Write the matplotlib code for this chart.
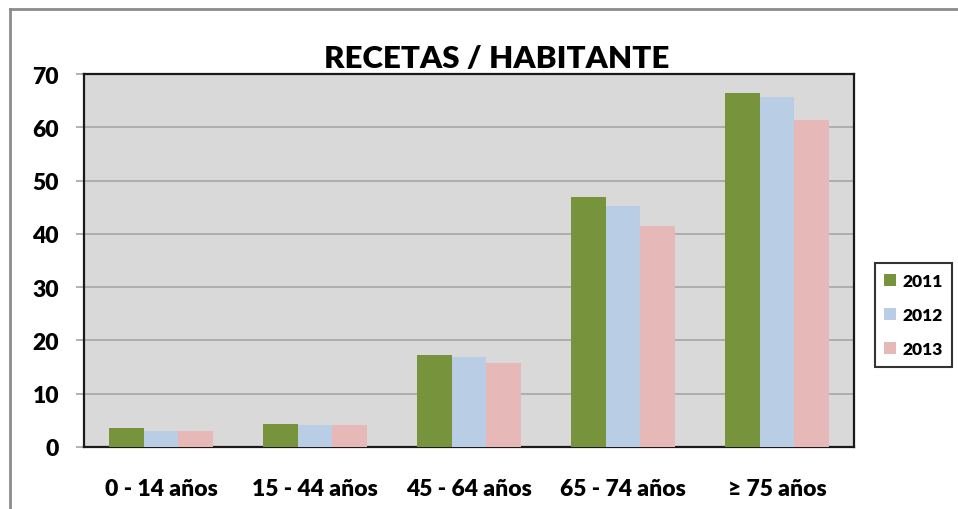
import numpy as np
import matplotlib
matplotlib.use("Agg")
import matplotlib.pyplot as plt
from matplotlib.lines import Line2D

plt.rcParams['font.family'] = ['Lato', 'DejaVu Sans']

categories = ["0 - 14 años", "15 - 44 años", "45 - 64 años", "65 - 74 años", "≥ 75 años"]
years = ["2011", "2012", "2013"]
v2011 = [3.6, 4.3, 17.3, 46.9, 66.4]
v2012 = [3.0, 4.1, 16.9, 45.2, 65.7]
v2013 = [3.0, 4.1, 15.8, 41.5, 61.3]
colors = ["#77933C", "#B9CDE5", "#E6B9B8"]

fig = plt.figure(figsize=(9.58, 5.10), dpi=100)
ax = fig.add_axes([84 / 958, 1 - 448 / 510, 770 / 958, 373 / 510])
ax.set_facecolor("#D9D9D9")

x = np.arange(len(categories))
w = 0.224
for i, (vals, c, lab) in enumerate(zip([v2011, v2012, v2013], colors, years)):
    ax.bar(x + (i - 1) * w, vals, width=w, color=c, label=lab, zorder=3)

ax.set_xlim(-0.5, len(categories) - 0.5)
ax.set_ylim(0, 70)
ax.set_yticks(range(0, 71, 10))
ax.yaxis.grid(True, color="#A6A6A6", linewidth=1.2, zorder=0)
ax.set_xticks(x)
ax.set_xticklabels(categories)
ax.tick_params(axis="x", length=0, pad=22, labelsize=16.5)
ax.tick_params(axis="y", length=6, color="#A6A6A6", width=1.2, pad=12, labelsize=16.5)
for lbl in ax.get_xticklabels() + ax.get_yticklabels():
    lbl.set_fontweight("heavy")

for s in ax.spines.values():
    s.set_color("#1A1A1A")
    s.set_linewidth(1.6)

fig.text(497 / 958, 1 - 68 / 510, "RECETAS / HABITANTE", ha="center", va="baseline",
         fontsize=22.5, fontweight="heavy")

leg = fig.legend(loc="center", bbox_to_anchor=(913.5 / 958, 1 - 316 / 510),
                 frameon=True, fancybox=False, edgecolor="black",
                 prop={"weight": "heavy", "size": 12.5}, handlelength=0.7,
                 handleheight=0.7, handletextpad=0.35, labelspacing=1.05,
                 borderpad=0.55)
leg.get_frame().set_linewidth(1.5)

# outer chart frame (cropped at right and bottom)
fig.add_artist(Line2D([9.5 / 958, 9.5 / 958], [0, 1 - 9.5 / 510], color="#8C8C8C", lw=2))
fig.add_artist(Line2D([9.5 / 958, 1], [1 - 9.5 / 510, 1 - 9.5 / 510], color="#8C8C8C", lw=2))

fig.savefig("out.png", dpi=100, facecolor="white")
